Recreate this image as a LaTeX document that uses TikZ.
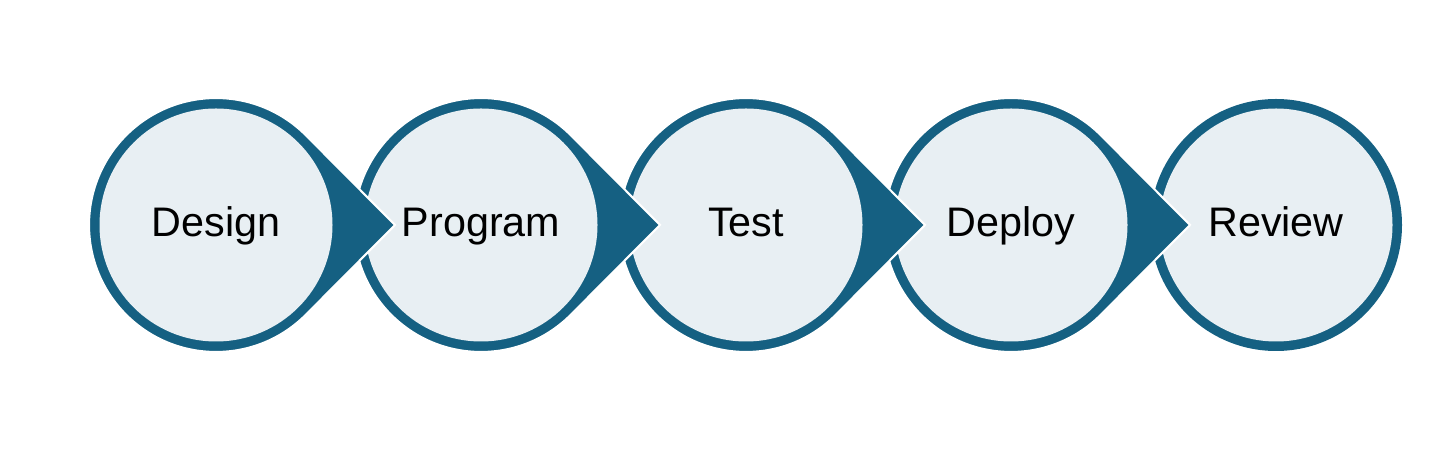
\documentclass[tikz,border=0pt]{standalone}
\usepackage{fontspec}
\setmainfont{Liberation Sans}
\usetikzlibrary{positioning, calc}
\definecolor{stepblue}{HTML}{156082}
\definecolor{steplight}{HTML}{E8EFF3}
\tikzset{
  stepdisk/.style={circle, fill=steplight, minimum size=4.66cm, inner sep=0pt,
    text height=0.6cm, text depth=0.12cm, font=\fontsize{23.5}{28}\selectfont},
  arrowdrop/.style={fill=stepblue, draw=white, line width=1.2pt}
}

\begin{document}
\begin{tikzpicture}
\useasboundingbox (0,0) rectangle (28.8,8.98);
\coordinate (p1) at (4.32,4.48);
\coordinate[right=5.3cm of p1] (p2);
\coordinate[right=5.3cm of p2] (p3);
\coordinate[right=5.3cm of p3] (p4);
\coordinate[right=5.3cm of p4] (p5);

% right to left, so each arrow tip lies over the next step
\foreach \i/\txt in {5/Review,4/Deploy,3/Test,2/Program,1/Design} {
  \ifnum\i=5
    \fill[stepblue] (p\i) circle (2.52);
  \else
    \filldraw[arrowdrop] ($(p\i)+(3.58,0)$) -- ($(p\i)+(45:2.54)$)
      arc[start angle=45, end angle=315, radius=2.54] -- cycle;
  \fi
  \node[stepdisk] (s\i) at (p\i) {\txt};
}
\end{tikzpicture}
\end{document}
